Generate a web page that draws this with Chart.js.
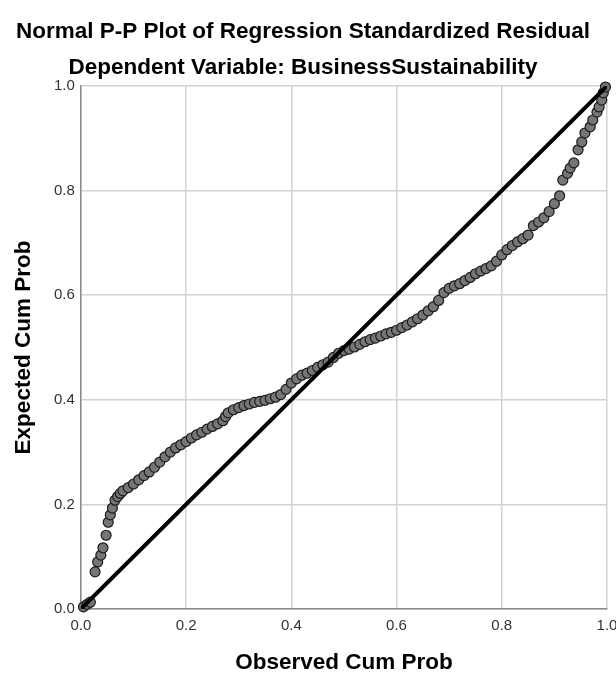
<!DOCTYPE html>
<html>
<head>
<meta charset="utf-8">
<script src="https://cdn.jsdelivr.net/npm/chart.js@4/dist/chart.umd.min.js"></script>
<style>
  html, body { margin: 0; padding: 0; background: #fff; }
  #wrap { width: 616px; height: 676px; }
</style>
</head>
<body>
<div id="wrap"><canvas id="ppPlot"></canvas></div>
<script>
// Observed cum prob (x) vs expected cum prob (y)
const observedCum = [
  0.005, 0.012, 0.018, 0.027, 0.032, 0.038, 0.042, 0.048, 0.052, 0.056,
  0.060, 0.065, 0.070, 0.075, 0.080, 0.09, 0.10, 0.11, 0.12, 0.13,
  0.14, 0.15, 0.16, 0.17, 0.18, 0.19, 0.20, 0.21, 0.22, 0.23,
  0.24, 0.25, 0.26, 0.27, 0.275, 0.28, 0.29, 0.30, 0.31, 0.32,
  0.33, 0.34, 0.35, 0.36, 0.37, 0.38, 0.39, 0.40, 0.41, 0.42,
  0.43, 0.44, 0.45, 0.46, 0.47, 0.48, 0.49, 0.50, 0.51, 0.52,
  0.53, 0.54, 0.55, 0.56, 0.57, 0.58, 0.59, 0.60, 0.61, 0.62,
  0.63, 0.64, 0.65, 0.66, 0.67, 0.68, 0.69, 0.70, 0.71, 0.72,
  0.73, 0.74, 0.75, 0.76, 0.77, 0.78, 0.79, 0.80, 0.81, 0.82,
  0.83, 0.84, 0.85, 0.86, 0.87, 0.88, 0.89, 0.90, 0.91, 0.916,
  0.925, 0.93, 0.937, 0.945, 0.952, 0.958, 0.968, 0.973, 0.981, 0.985,
  0.990, 0.993, 0.997
];
const expectedCum = [
  0.004, 0.009, 0.013, 0.071, 0.090, 0.103, 0.117, 0.141, 0.166, 0.180,
  0.193, 0.208, 0.215, 0.221, 0.226, 0.232, 0.239, 0.247, 0.255, 0.262,
  0.271, 0.281, 0.291, 0.300, 0.308, 0.314, 0.320, 0.327, 0.333, 0.338,
  0.344, 0.349, 0.354, 0.360, 0.368, 0.375, 0.381, 0.385, 0.389, 0.392,
  0.395, 0.397, 0.399, 0.402, 0.405, 0.410, 0.420, 0.432, 0.440, 0.447,
  0.451, 0.456, 0.462, 0.467, 0.472, 0.481, 0.489, 0.494, 0.497, 0.501,
  0.506, 0.511, 0.515, 0.518, 0.522, 0.526, 0.529, 0.533, 0.538, 0.543,
  0.549, 0.555, 0.562, 0.570, 0.578, 0.590, 0.605, 0.613, 0.618, 0.622,
  0.628, 0.634, 0.641, 0.646, 0.651, 0.656, 0.665, 0.677, 0.687, 0.695,
  0.702, 0.708, 0.715, 0.733, 0.740, 0.748, 0.760, 0.775, 0.790, 0.820,
  0.833, 0.843, 0.853, 0.878, 0.893, 0.910, 0.922, 0.935, 0.950, 0.960,
  0.973, 0.987, 0.998
];
const refLineX = [0, 1];
const refLineY = [0, 1];
const axisTicks = [0, 0.2, 0.4, 0.6, 0.8, 1.0];

const FONT = "'Liberation Sans', Arial, sans-serif";

const points = observedCum.map((x, i) => ({ x: x, y: expectedCum[i] }));
const diag = refLineX.map((x, i) => ({ x: x, y: refLineY[i] }));

const tickOpts = {
  color: '#333',
  font: { family: FONT, size: 15 },
  callback: (v) => Number(v).toFixed(1)
};

const ctx = document.getElementById('ppPlot').getContext('2d');
new Chart(ctx, {
  type: 'scatter',
  data: {
    datasets: [
      {
        type: 'line',
        data: diag,
        borderColor: '#000',
        borderWidth: 4,
        pointRadius: 0,
        fill: false,
        order: 0
      },
      {
        data: points,
        backgroundColor: '#767676',
        borderColor: '#1c1c1c',
        borderWidth: 1.2,
        pointRadius: 5,
        clip: false,
        order: 1
      }
    ]
  },
  options: {
    responsive: true,
    maintainAspectRatio: false,
    animation: false,
    // uneven side padding shifts the centred titles a little left, like the original
    layout: { padding: { left: -2, right: 8, top: 0, bottom: 0 } },
    plugins: {
      legend: { display: false },
      tooltip: { enabled: false },
      title: {
        display: true,
        text: 'Normal P-P Plot of Regression Standardized Residual',
        color: '#000',
        font: { family: FONT, size: 22.5, weight: 'bold' },
        padding: { top: 18, bottom: 9 }
      },
      subtitle: {
        display: true,
        text: 'Dependent Variable: BusinessSustainability',
        color: '#000',
        font: { family: FONT, size: 22.5, weight: 'bold' },
        padding: { top: 0, bottom: 5 }
      }
    },
    scales: {
      x: {
        type: 'linear',
        min: 0, max: 1,
        afterBuildTicks: (axis) => { axis.ticks = axisTicks.map(v => ({ value: v })); },
        afterFit: (axis) => { axis.paddingRight = 9; },
        ticks: Object.assign({}, tickOpts, { padding: 8 }),
        grid: { color: '#d2d2d2', lineWidth: 1.5, drawTicks: false },
        border: { color: '#8a8a8a', width: 1.5 },
        title: {
          display: true,
          text: 'Observed Cum Prob',
          color: '#000',
          font: { family: FONT, size: 22.5, weight: 'bold' },
          padding: { top: 6, bottom: 0 }
        }
      },
      y: {
        type: 'linear',
        min: 0, max: 1,
        afterBuildTicks: (axis) => { axis.ticks = axisTicks.map(v => ({ value: v })); },
        ticks: Object.assign({}, tickOpts, { padding: 6 }),
        grid: { color: '#d2d2d2', lineWidth: 1.5, drawTicks: false },
        border: { color: '#8a8a8a', width: 1.5 },
        title: {
          display: true,
          text: 'Expected Cum Prob',
          color: '#000',
          font: { family: FONT, size: 22.5, weight: 'bold' },
          padding: { top: 12, bottom: 11 }
        }
      }
    }
  }
});
</script>
</body>
</html>
